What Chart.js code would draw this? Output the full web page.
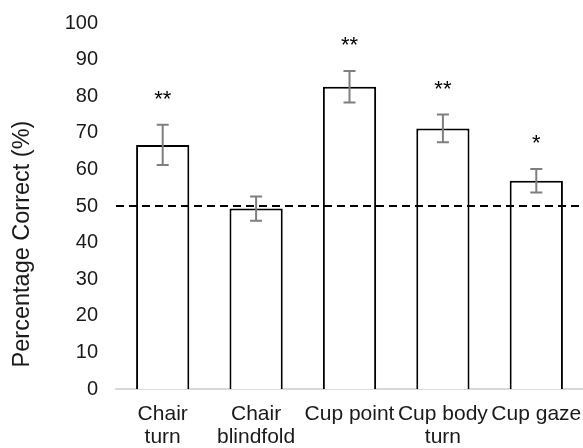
<!DOCTYPE html>
<html>
<head>
<meta charset="utf-8">
<script src="https://cdn.jsdelivr.net/npm/chart.js@4"></script>
<style>
  html, body { margin: 0; padding: 0; background: #fff; overflow: hidden; }
  #wrap { width: 583px; height: 448px; }
</style>
</head>
<body>
<div id="wrap"><canvas id="chart"></canvas></div>
<script>
// 条件ラベル（2行に折り返すものは配列）
const conditions = [['Chair', 'turn'], ['Chair', 'blindfold'], 'Cup point', ['Cup body', 'turn'], 'Cup gaze'];
// 正答率 (%)
const percentCorrect = [66.7, 49.3, 82.6, 71.2, 56.9];
// 誤差範囲 (±)
const errorSize = [5.5, 3.3, 4.3, 3.8, 3.2];
// 有意差マーク
const significance = ['**', '', '**', '**', '*'];
// チャンスレベル
const chanceLevel = 50;
// Y軸目盛り
const yTicks = [0, 10, 20, 30, 40, 50, 60, 70, 80, 90, 100];
// Y軸タイトル
const yTitle = 'Percentage Correct (%)';

const FONT = '"Liberation Sans", Arial, sans-serif';

// 色設定
const colors = {
  bar: '#000000',
  fill: '#ffffff',
  error: '#7f7f7f',
  axis: '#d9d9d9',
  text: '#1a1a1a'
};

// 誤差棒・有意差・チャンスレベル線を描くプラグイン
const overlayPlugin = {
  id: 'overlay',
  afterDatasetsDraw(chart) {
    const { ctx, chartArea, scales: { x, y } } = chart;
    ctx.save();

    // チャンスレベル（破線）
    ctx.strokeStyle = '#000';
    ctx.lineWidth = 2;
    ctx.setLineDash([8, 5]);
    const cy = y.getPixelForValue(chanceLevel);
    ctx.beginPath();
    ctx.moveTo(chartArea.left, cy);
    ctx.lineTo(chartArea.right, cy);
    ctx.stroke();
    ctx.setLineDash([]);

    // 誤差棒
    ctx.strokeStyle = colors.error;
    ctx.lineWidth = 2;
    percentCorrect.forEach((v, i) => {
      const px = x.getPixelForValue(i);
      const top = y.getPixelForValue(v + errorSize[i]);
      const bottom = y.getPixelForValue(v - errorSize[i]);
      ctx.beginPath();
      ctx.moveTo(px, top); ctx.lineTo(px, bottom);
      ctx.moveTo(px - 6, top); ctx.lineTo(px + 6, top);
      ctx.moveTo(px - 6, bottom); ctx.lineTo(px + 6, bottom);
      ctx.stroke();

      // 有意差マーク
      if (significance[i]) {
        ctx.fillStyle = '#000';
        ctx.font = '22px ' + FONT;
        ctx.textAlign = 'center';
        ctx.textBaseline = 'alphabetic';
        ctx.fillText(significance[i], px, top - 19);
      }
    });

    // Y軸タイトル（Excel同様、やや下寄せ）
    ctx.fillStyle = colors.text;
    ctx.font = '23.5px ' + FONT;
    ctx.textAlign = 'center';
    ctx.textBaseline = 'middle';
    ctx.translate(y.left + 23, (chartArea.top + chartArea.bottom) / 2 + 38);
    ctx.rotate(-Math.PI / 2);
    ctx.fillText(yTitle, 0, 0);

    ctx.restore();
  }
};

new Chart(document.getElementById('chart'), {
  type: 'bar',
  data: {
    labels: conditions,
    datasets: [{
      data: percentCorrect,
      backgroundColor: colors.fill,
      borderColor: colors.bar,
      borderWidth: 2,
      categoryPercentage: 1,
      barPercentage: 0.57
    }]
  },
  options: {
    responsive: true,
    maintainAspectRatio: false,
    animation: false,
    layout: {
      padding: { top: 23, right: 0, bottom: 0, left: 0 }
    },
    plugins: {
      legend: { display: false },
      tooltip: { enabled: false }
    },
    scales: {
      x: {
        // ラベル分の余白を自前で決める
        afterFit: axis => {
          axis.paddingLeft = 0;
          axis.paddingRight = 0;
          axis.height = 59;
        },
        grid: { display: false, drawTicks: false },
        border: { display: true, color: colors.axis, width: 2 },
        ticks: {
          color: colors.text,
          padding: 13,
          maxRotation: 0,
          autoSkip: false,
          font: { family: FONT, size: 21, lineHeight: 1.12 }
        }
      },
      y: {
        min: 0,
        max: 100,
        afterBuildTicks: axis => {
          axis.ticks = yTicks.map(v => ({ value: v }));
        },
        afterFit: axis => {
          axis.paddingTop = 0;
          axis.paddingBottom = 0;
          axis.width = 116;
        },
        grid: { display: false, drawTicks: false },
        border: { display: false },
        ticks: {
          color: colors.text,
          padding: 18,
          font: { family: FONT, size: 20 }
        },
        title: { display: false }
      }
    }
  },
  plugins: [overlayPlugin]
});
</script>
</body>
</html>
